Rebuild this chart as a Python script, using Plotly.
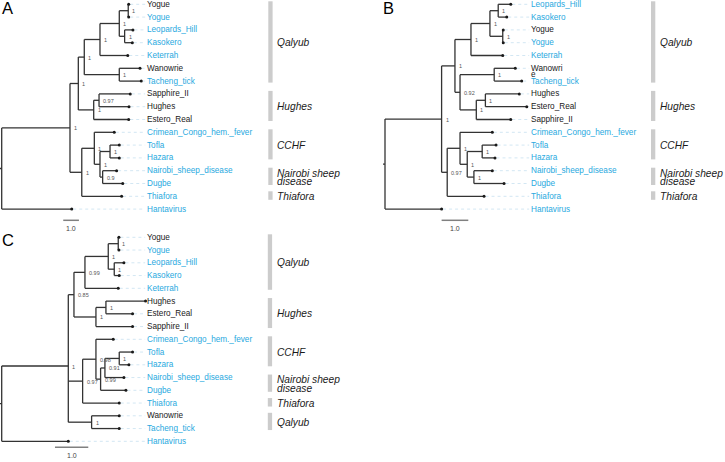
import plotly.graph_objects as go

# ---------------- data ----------------
# Newick trees: branch lengths (substitutions/site units) and support values on internal nodes
newick_A = ("(((((((Yogue:0.03,Yogue:0.03)1:0.57,(Leopards_Hill:0.53,Kasokero:0.49)1:0.34)1:1.23,"
            "Keterrah:1.77)1:1.00,(Wanowrie:1.32,Tacheng_tick:1.40)1:2.23)1:0.38,"
            "((Sapphire_II:1.99,Hughes:1.91)0.97:0.34,Estero_Real:2.23)1:0.98)1:0.53,"
            "((Crimean_Congo_hem._fever:1.27,((Tofla:0.59,Hazara:0.59)1:0.64,"
            "(Nairobi_sheep_disease:0.89,Dugbe:1.28)0.9:0.17)1:0.36)1:0.80,Thiafora:2.54)1:0.75)1:4.35,"
            "Hantavirus:4.46);")

newick_B = ("((((((Leopards_Hill:0.47,Kasokero:0.32)1:0.31,(Yogue:0.02,Yogue:0.02)1:0.48)1:0.71,"
            "Keterrah:1.19)1:0.60,((Wanowrie:0.79,Tacheng_tick:1.03)1:1.28,"
            "((Hughes:1.27,Estero_Real:1.55)1:0.34,Sapphire_II:1.29)1:0.61)0.92:0.19)1:0.50,"
            "((Crimean_Congo_hem._fever:1.21,((Tofla:0.52,Hazara:0.48)1:0.56,"
            "(Nairobi_sheep_disease:0.69,Dugbe:1.13)1:0.25)1:0.27)1:0.48,Thiafora:1.38)0.97:0.21)1:2.12,"
            "Hantavirus:2.12);")

newick_C = ("((((((Yogue:0.02,Yogue:0.02)1:0.30,(Leopards_Hill:0.29,Kasokero:0.15)1:0.18)1:0.70,"
            "Keterrah:1.00)0.99:0.33,((Hughes:1.19,Estero_Real:0.80)1:0.30,Sapphire_II:1.10)1:0.66)0.85:0.17,"
            "((Crimean_Congo_hem._fever:0.52,(((Tofla:0.40,Hazara:0.29)1:0.43,"
            "Nairobi_sheep_disease:0.57)0.91:0.13,Dugbe:0.76)0.99:0.14)0.98:0.40,Thiafora:1.10)0.97:0.43,"
            "(Wanowrie:0.83,Tacheng_tick:0.83)1:0.70)1:2.00,Hantavirus:2.00);")

# tip label colour keys in tip order ("k" black, "b" blue)
tip_colour_A = ["k", "b", "b", "b", "b", "k", "b", "k", "k", "k", "b", "b", "b", "b", "b", "b", "b"]
tip_colour_B = ["b", "b", "k", "b", "b", "k", "b", "k", "k", "k", "b", "b", "b", "b", "b", "b", "b"]
tip_colour_C = ["k", "b", "b", "b", "b", "k", "k", "k", "b", "b", "b", "b", "b", "b", "k", "b", "b"]

# displayed tip text overrides (panel B wraps Wanowrie)
tip_text_B = {"Wanowrie": "Wanowri\ne"}

# clade bars: (label, first tip index, last tip index)
clades_A = [("Qalyub", 0, 6), ("Hughes", 7, 9), ("CCHF", 10, 12),
            ("Nairobi sheep\ndisease", 13, 14), ("Thiafora", 15, 15)]
clades_B = [("Qalyub", 0, 6), ("Hughes", 7, 9), ("CCHF", 10, 12),
            ("Nairobi sheep\ndisease", 13, 14), ("Thiafora", 15, 15)]
clades_C = [("Qalyub", 0, 4), ("Hughes", 5, 7), ("CCHF", 8, 10),
            ("Nairobi sheep\ndisease", 11, 12), ("Thiafora", 13, 13), ("Qalyub", 14, 15)]

scale_bar_length = 1.0
scale_bar_label = "1.0"

# ---------------- styling / placement ----------------
COL = {"k": "#1a1a1a", "b": "#29a9e0"}
FONT = "Liberation Sans, Arial, sans-serif"
TREE_COL = "#333333"

panels = [
    dict(letter="A", newick=newick_A, colours=tip_colour_A, texts={}, clades=clades_A,
         x0=1.7, scale=15.7, y0=4.3, step=12.8, label_x=145.2, bar_x=268.3, clade_x=275.3,
         sb_start=3.92, sb_y=220.3, letter_xy=(7.5, 7.5)),
    dict(letter="B", newick=newick_B, colours=tip_colour_B, texts=tip_text_B, clades=clades_B,
         x0=385.0, scale=26.7, y0=4.3, step=12.8, label_x=529.2, bar_x=651.0, clade_x=658.3,
         sb_start=2.12, sb_y=220.3, letter_xy=(388, 7.5)),
    dict(letter="C", newick=newick_C, colours=tip_colour_C, texts={}, clades=clades_C,
         x0=1.7, scale=33.3, y0=237.3, step=12.75, label_x=145.2, bar_x=267.8, clade_x=275.3,
         sb_start=1.60, sb_y=447.3, letter_xy=(7.5, 240)),
]


def parse_newick(s):
    s = s.strip().rstrip(";")
    pos = 0

    def parse():
        nonlocal pos
        node = {"children": [], "name": "", "len": 0.0}
        if s[pos] == "(":
            pos += 1
            while True:
                node["children"].append(parse())
                if s[pos] == ",":
                    pos += 1
                    continue
                pos += 1
                break
        start = pos
        while pos < len(s) and s[pos] not in ",():":
            pos += 1
        node["name"] = s[start:pos]
        if pos < len(s) and s[pos] == ":":
            pos += 1
            start = pos
            while pos < len(s) and s[pos] not in ",()":
                pos += 1
            node["len"] = float(s[start:pos])
        return node

    return parse()


def lay_out(node, parent_depth, tips):
    node["depth"] = parent_depth + node["len"]
    if not node["children"]:
        node["yi"] = len(tips)
        tips.append(node)
    else:
        for c in node["children"]:
            lay_out(c, node["depth"], tips)
        node["yi"] = sum(c["yi"] for c in node["children"]) / len(node["children"])


fig = go.Figure()
annotations = []
shapes = []

for p in panels:
    root = parse_newick(p["newick"])
    tips = []
    lay_out(root, 0.0, tips)

    def X(d, p=p):
        return p["x0"] + d * p["scale"]

    def Y(i, p=p):
        return p["y0"] + i * p["step"]

    lx, ly = [], []
    supports = []

    def walk(n):
        if n["children"]:
            ys = [Y(c["yi"]) for c in n["children"]]
            lx.extend([X(n["depth"]), X(n["depth"]), None])
            ly.extend([min(ys), max(ys), None])
            for c in n["children"]:
                lx.extend([X(n["depth"]), X(c["depth"]), None])
                ly.extend([Y(c["yi"]), Y(c["yi"]), None])
                walk(c)
            if n is not root and n["name"]:
                supports.append((X(n["depth"]), Y(n["yi"]), n["name"]))

    walk(root)
    # root stub
    lx.extend([X(root["depth"]) - 2, X(root["depth"]), None])
    ly.extend([Y(root["yi"]), Y(root["yi"]), None])

    # dotted connectors tip -> label
    cx, cy = [], []
    for t in tips:
        cx.extend([X(t["depth"]) + 1.5, p["label_x"], None])
        cy.extend([Y(t["yi"]), Y(t["yi"]), None])
    fig.add_trace(go.Scatter(x=cx, y=cy, mode="lines", hoverinfo="skip",
                             line=dict(color="#d3e7f3", width=1, dash="dot"), showlegend=False))

    fig.add_trace(go.Scatter(x=lx, y=ly, mode="lines", hoverinfo="skip",
                             line=dict(color=TREE_COL, width=1.3), showlegend=False))
    fig.add_trace(go.Scatter(x=[X(t["depth"]) for t in tips], y=[Y(t["yi"]) for t in tips],
                             mode="markers", hoverinfo="skip",
                             marker=dict(color="#1a1a1a", size=3), showlegend=False))

    # tip labels
    for t, ck in zip(tips, p["colours"]):
        txt = p["texts"].get(t["name"], t["name"])
        for k, line in enumerate(txt.split("\n")):
            annotations.append(dict(x=p["label_x"], y=Y(t["yi"]) + k * 6.0, text=line,
                                    xanchor="left", yanchor="middle", showarrow=False,
                                    font=dict(family=FONT, size=8.2, color=COL[ck])))
    # support values
    for sx, sy, s in supports:
        annotations.append(dict(x=sx + 2.0, y=sy + 0.5, text=s, xanchor="left", yanchor="middle",
                                showarrow=False, font=dict(family=FONT, size=5.5, color="#555555")))

    # clade bars and names
    for name, i0, i1 in p["clades"]:
        top, bot = Y(i0) - 3.0, Y(i1) + 1.5
        if bot - top < 8.5:
            mid = (top + bot) / 2
            top, bot = mid - 4.25, mid + 4.25
        shapes.append(dict(type="rect", x0=p["bar_x"], x1=p["bar_x"] + 4.3, y0=top, y1=bot,
                           fillcolor="#cccccc", line=dict(width=0), layer="below"))
        lines = name.split("\n")
        mid = (top + bot) / 2 + 0.8
        spacing = 8.3
        start = mid - spacing * (len(lines) - 1) / 2
        for k, line in enumerate(lines):
            annotations.append(dict(x=p["clade_x"], y=start + k * spacing, text="<i>" + line + "</i>",
                                    xanchor="left", yanchor="middle", showarrow=False,
                                    font=dict(family=FONT, size=10.2, color="#1a1a1a")))

    # scale bar
    sb0 = X(p["sb_start"])
    sb1 = X(p["sb_start"] + scale_bar_length)
    fig.add_trace(go.Scatter(x=[sb0, sb1], y=[p["sb_y"], p["sb_y"]], mode="lines", hoverinfo="skip",
                             line=dict(color="#808080", width=1.5), showlegend=False))
    annotations.append(dict(x=(sb0 + sb1) / 2, y=p["sb_y"] + 8, text=scale_bar_label,
                            xanchor="center", yanchor="middle", showarrow=False,
                            font=dict(family=FONT, size=7, color="#444444")))

    # panel letter
    annotations.append(dict(x=p["letter_xy"][0], y=p["letter_xy"][1], text=p["letter"],
                            xanchor="center", yanchor="middle", showarrow=False,
                            font=dict(family=FONT, size=16.5, color="#000000")))

fig.update_layout(
    width=725, height=462,
    margin=dict(l=0, r=0, t=0, b=0),
    paper_bgcolor="white", plot_bgcolor="white",
    xaxis=dict(range=[0, 725], visible=False, fixedrange=True),
    yaxis=dict(range=[462, 0], visible=False, fixedrange=True),
    annotations=annotations, shapes=shapes,
)

fig.write_html("out.html", config={"displayModeBar": False},
               post_script="document.body.style.margin='0';document.body.style.overflow='hidden';")
